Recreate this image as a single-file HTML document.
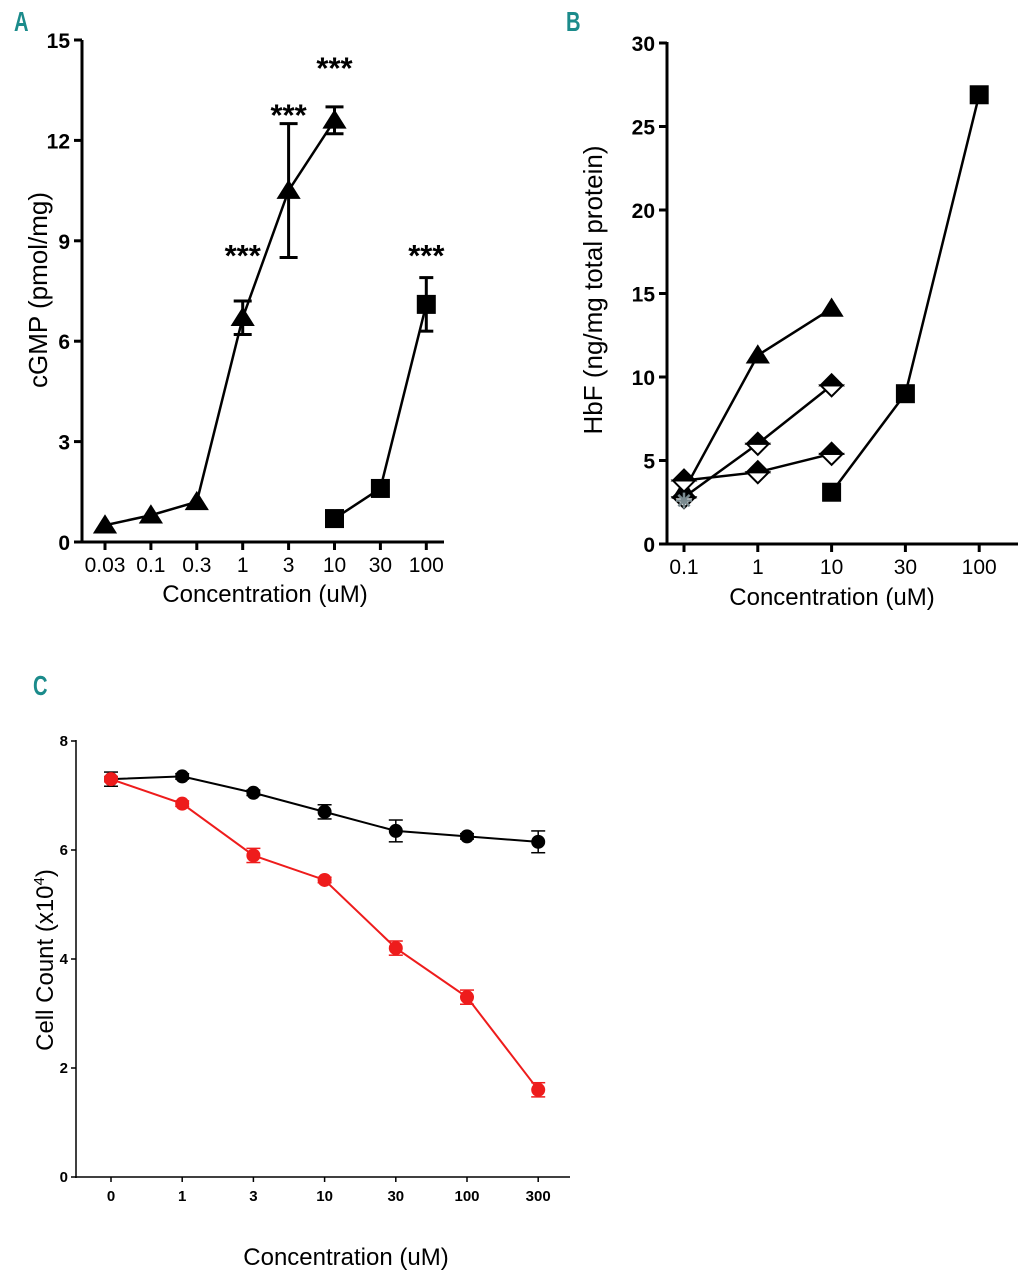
<!DOCTYPE html>
<html><head><meta charset="utf-8"><style>
body{margin:0;background:#fff;width:1023px;height:1280px;overflow:hidden}
svg{display:block;font-family:"Liberation Sans",sans-serif}
</style></head><body>
<svg id="s" width="1023" height="1280" viewBox="0 0 1023 1280"></svg>
<script>
// Panel A data
const aCats=["0.03","0.1","0.3","1","3","10","30","100"];
const aYTicks=[0,3,6,9,12,15];
const aTriX=[0,1,2,3,4,5];
const aTriY=[0.5,0.8,1.2,6.7,10.5,12.6];
const aTriErr=[0,0,0,0.5,2.0,0.4];
const aSqX=[5,6,7];
const aSqY=[0.7,1.6,7.1];
const aSqErr=[0,0,0.8];
const aStarX=[3,4,5,7];
const aStarY=[8.7,12.9,14.3,8.7];
// Panel B data
const bCats=["0.1","1","10","30","100"];
const bYTicks=[0,5,10,15,20,25,30];
const bTriY=[3.2,11.3,14.1];
const bDia1Y=[2.8,6.0,9.5];
const bDia2Y=[3.8,4.3,5.4];
const bStarY=[2.6];
const bSqX=[2,3,4];
const bSqY=[3.1,9.0,26.9];
// Panel C data
const cCats=["0","1","3","10","30","100","300"];
const cYTicks=[0,2,4,6,8];
const cBlackY=[7.3,7.35,7.05,6.7,6.35,6.25,6.15];
const cBlackErr=[0.13,0.05,0.05,0.13,0.2,0.05,0.2];
const cRedY=[7.3,6.85,5.9,5.45,4.2,3.3,1.6];
const cRedErr=[0.05,0.05,0.13,0.05,0.13,0.13,0.13];

const S=document.getElementById('s');
const NS='http://www.w3.org/2000/svg';
function el(tag,attrs,parent){const e=document.createElementNS(NS,tag);for(const k in attrs)e.setAttribute(k,attrs[k]);(parent||S).appendChild(e);return e;}
function txt(x,y,t,attrs,parent){const e=el('text',Object.assign({x:x,y:y},attrs),parent);e.textContent=t;return e;}
function grp(name){const g=el('g',{});return g;}
function tri(g,x,y,r){return el('polygon',{points:`${x},${y-r} ${x-r*1.1},${y+r*0.75} ${x+r*1.1},${y+r*0.75}`,fill:'#000'},g);}
function sq(g,x,y,r){return el('rect',{x:x-r,y:y-r,width:2*r,height:2*r,fill:'#000'},g);}
function dia(g,x,y,r){el('polygon',{points:`${x-r},${y} ${x},${y+r} ${x+r},${y}`,fill:'#fff',stroke:'#000','stroke-width':2},g);el('polygon',{points:`${x-r},${y} ${x},${y-r} ${x+r},${y}`,fill:'#000',stroke:'#000','stroke-width':2},g);}
function errBar(g,x,y1,y2,w,col,sw){el('line',{x1:x,y1:y1,x2:x,y2:y2,stroke:col,'stroke-width':sw},g);el('line',{x1:x-w,y1:y1,x2:x+w,y2:y1,stroke:col,'stroke-width':sw},g);el('line',{x1:x-w,y1:y2,x2:x+w,y2:y2,stroke:col,'stroke-width':sw},g);}
function poly(g,pts,col,sw){el('polyline',{points:pts.map(p=>p.join(',')).join(' '),fill:'none',stroke:col,'stroke-width':sw},g);}
const teal='#1b8b8b';

// ---------- Panel A ----------
const axA=i=>105+i*45.9, ayA=v=>542-v*(502/15);
let lab=txt(0,0,'A',{fill:teal,'font-weight':'bold','font-size':28,transform:'translate(14,31) scale(0.72,1)'});

let gA=grp('panel-a-axes');
el('line',{x1:82,y1:40,x2:82,y2:543,stroke:'#000','stroke-width':3},gA);
el('line',{x1:81,y1:542,x2:444,y2:542,stroke:'#000','stroke-width':3},gA);
aYTicks.forEach(v=>{el('line',{x1:74,y1:ayA(v),x2:82,y2:ayA(v),stroke:'#000','stroke-width':3},gA);txt(70,ayA(v)+8,String(v),{'text-anchor':'end','font-size':21,'font-weight':'bold'},gA);});
aCats.forEach((c,i)=>{el('line',{x1:axA(i),y1:542,x2:axA(i),y2:550,stroke:'#000','stroke-width':3},gA);txt(axA(i),572,c,{'text-anchor':'middle','font-size':21},gA);});
txt(265,602,'Concentration (uM)',{'text-anchor':'middle','font-size':24},gA);
let ytA=txt(0,0,'cGMP (pmol/mg)',{'text-anchor':'middle','font-size':26,transform:'translate(47,290) rotate(-90)'},gA);

let sA1=grp('series-a-triangle');
poly(sA1,aTriX.map((x,i)=>[axA(x),ayA(aTriY[i])]),'#000',2.5);
aTriX.forEach((x,i)=>{if(aTriErr[i])errBar(sA1,axA(x),ayA(aTriY[i]-aTriErr[i]),ayA(aTriY[i]+aTriErr[i]),9,'#000',3);tri(sA1,axA(x),ayA(aTriY[i]),11);});
let sA2=grp('series-a-square');
poly(sA2,aSqX.map((x,i)=>[axA(x),ayA(aSqY[i])]),'#000',2.5);
aSqX.forEach((x,i)=>{if(aSqErr[i])errBar(sA2,axA(x),ayA(aSqY[i]-aSqErr[i]),ayA(aSqY[i]+aSqErr[i]),7,'#000',3);sq(sA2,axA(x),ayA(aSqY[i]),9.5);});
let stA=grp('significance-stars-a');
aStarX.forEach((x,i)=>txt(axA(x),ayA(aStarY[i])+15,'***',{'text-anchor':'middle','font-size':31,'font-weight':'bold'},stA));

// ---------- Panel B ----------
const axB=i=>684+i*73.8, ayB=v=>544-v*(501/30);
lab=txt(0,0,'B',{fill:teal,'font-weight':'bold','font-size':28,transform:'translate(566,31) scale(0.72,1)'});

let gB=grp('panel-b-axes');
el('line',{x1:667,y1:42,x2:667,y2:545,stroke:'#000','stroke-width':3},gB);
el('line',{x1:666,y1:544,x2:1018,y2:544,stroke:'#000','stroke-width':3},gB);
bYTicks.forEach(v=>{el('line',{x1:659,y1:ayB(v),x2:667,y2:ayB(v),stroke:'#000','stroke-width':3},gB);txt(655,ayB(v)+8,String(v),{'text-anchor':'end','font-size':21,'font-weight':'bold'},gB);});
bCats.forEach((c,i)=>{el('line',{x1:axB(i),y1:544,x2:axB(i),y2:552,stroke:'#000','stroke-width':3},gB);txt(axB(i),574,c,{'text-anchor':'middle','font-size':21},gB);});
txt(832,605,'Concentration (uM)',{'text-anchor':'middle','font-size':24},gB);
let ytB=txt(0,0,'HbF (ng/mg total protein)',{'text-anchor':'middle','font-size':26,transform:'translate(602,290) rotate(-90)'},gB);

let sB1=grp('series-b-triangle');
poly(sB1,bTriY.map((v,i)=>[axB(i),ayB(v)]),'#000',2.5);
bTriY.forEach((v,i)=>tri(sB1,axB(i),ayB(v),11));
let sB2=grp('series-b-diamond-1');
poly(sB2,bDia1Y.map((v,i)=>[axB(i),ayB(v)]),'#000',2.5);
bDia1Y.forEach((v,i)=>dia(sB2,axB(i),ayB(v),11));
let sB3=grp('series-b-diamond-2');
poly(sB3,bDia2Y.map((v,i)=>[axB(i),ayB(v)]),'#000',2.5);
bDia2Y.forEach((v,i)=>dia(sB3,axB(i),ayB(v),11));
let sB4=grp('series-b-star');
bStarY.forEach((v,i)=>{const x=axB(i),y=ayB(v);[0,45,90,135].forEach(a=>{const r=8,c=Math.cos(a*Math.PI/180)*r,s=Math.sin(a*Math.PI/180)*r;el('line',{x1:x-c,y1:y-s,x2:x+c,y2:y+s,stroke:'#7a8a8f','stroke-width':2.5},sB4);});});
let sB5=grp('series-b-square');
poly(sB5,bSqX.map((x,i)=>[axB(x),ayB(bSqY[i])]),'#000',2.5);
bSqX.forEach((x,i)=>sq(sB5,axB(x),ayB(bSqY[i]),9.5));

// ---------- Panel C ----------
const axC=i=>111+i*71.2, ayC=v=>1177-v*(436/8);
lab=txt(0,0,'C',{fill:teal,'font-weight':'bold','font-size':28,transform:'translate(33,695) scale(0.72,1)'});

let gC=grp('panel-c-axes');
el('line',{x1:76,y1:740,x2:76,y2:1178,stroke:'#000','stroke-width':1.5},gC);
el('line',{x1:75,y1:1177,x2:570,y2:1177,stroke:'#000','stroke-width':1.5},gC);
cYTicks.forEach(v=>{el('line',{x1:71,y1:ayC(v),x2:76,y2:ayC(v),stroke:'#000','stroke-width':1.5},gC);txt(68,ayC(v)+5,String(v),{'text-anchor':'end','font-size':15,'font-weight':'bold'},gC);});
cCats.forEach((c,i)=>{el('line',{x1:axC(i),y1:1177,x2:axC(i),y2:1182,stroke:'#000','stroke-width':1.5},gC);txt(axC(i),1201,c,{'text-anchor':'middle','font-size':15,'font-weight':'bold'},gC);});
txt(346,1265,'Concentration (uM)',{'text-anchor':'middle','font-size':24},gC);
let ytC=el('text',{'text-anchor':'middle','font-size':24,transform:'translate(53,960) rotate(-90)'},gC);
ytC.innerHTML='Cell Count (x10<tspan font-size="15" dy="-9">4</tspan><tspan dy="9">)</tspan>';

function cSeries(name,vals,errs,col){const g=grp(name);poly(g,vals.map((v,i)=>[axC(i),ayC(v)]),col,2);vals.forEach((v,i)=>{errBar(g,axC(i),ayC(v-errs[i]),ayC(v+errs[i]),7,col,1.5);el('circle',{cx:axC(i),cy:ayC(v),r:7,fill:col},g);});}
cSeries('series-c-black',cBlackY,cBlackErr,'#000');
cSeries('series-c-red',cRedY,cRedErr,'#ee1c1c');
</script>
</body></html>
